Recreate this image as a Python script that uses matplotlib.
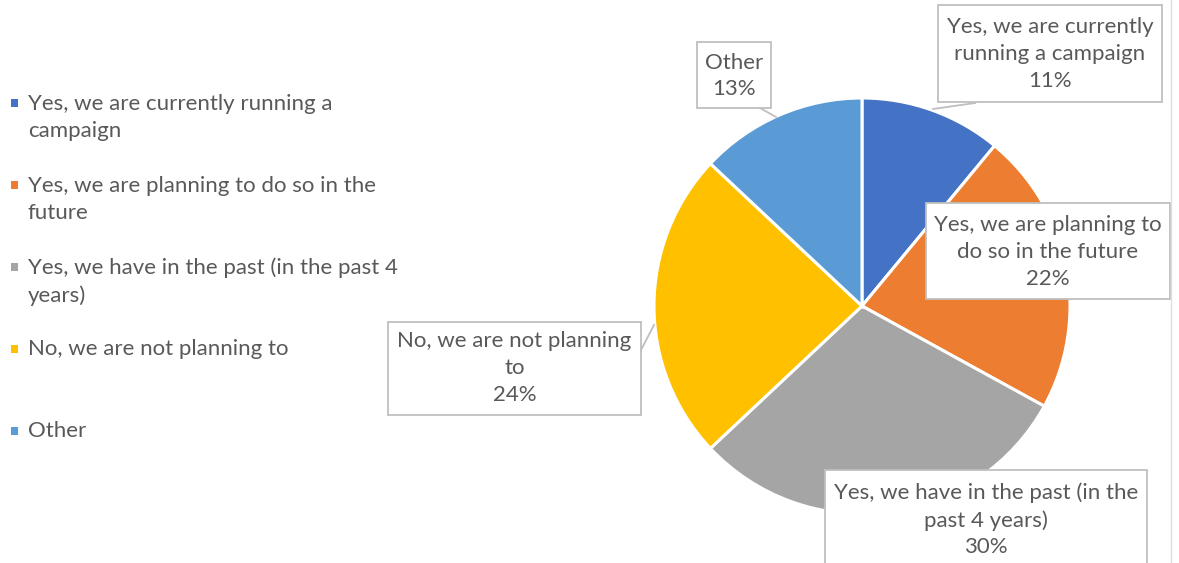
import matplotlib
matplotlib.use("Agg")
import matplotlib.pyplot as plt
from matplotlib.patches import Rectangle

plt.rcParams['font.family'] = ['Lato', 'DejaVu Sans']

categories = [
    "Yes, we are currently running a campaign",
    "Yes, we are planning to do so in the future",
    "Yes, we have in the past (in the past 4 years)",
    "No, we are not planning to",
    "Other",
]
shares = [11, 22, 30, 24, 13]
colors = ["#4472C4", "#ED7D31", "#A5A5A5", "#FFC000", "#5B9BD5"]

# wrapped text for legend entries and callouts
legend_text = [
    "Yes, we are currently running a\ncampaign",
    "Yes, we are planning to do so in the\nfuture",
    "Yes, we have in the past (in the past 4\nyears)",
    "No, we are not planning to",
    "Other",
]
callout_text = [
    "Yes, we are currently\nrunning a campaign",
    "Yes, we are planning to\ndo so in the future",
    "Yes, we have in the past (in the\npast 4 years)",
    "No, we are not planning\nto",
    "Other",
]
# callout boxes (x0, y0, x1, y1 in figure pixels from top-left) and leader lines
callout_box = [(938, 5, 1162, 102), (926, 203, 1170, 299), (825, 470, 1147, 575),
               (388, 322, 641, 415), (697, 42, 771, 108)]
callout_mid = [54, 252, 520, 368, 76]
leader = [((975, 103), (933, 109)), None, None, ((641, 350), (654, 325)), ((760, 108), (776, 117))]

W, H = 1179, 563
TXT = "#595959"
EDGE = "#BFBFBF"
FS = 16
LS = 1.42

fig = plt.figure(figsize=(W / 100, H / 100), dpi=100)


def fx(px):
    return px / W


def fy(py):
    return 1 - py / H


# pie axes: centre (862, 306), radius 208 px
cx0, cy0, r = 862, 306, 208
ax = fig.add_axes([fx(cx0 - r), fy(cy0 + r), 2 * r / W, 2 * r / H])
ax.pie(shares, colors=colors, startangle=90, counterclock=False,
       wedgeprops=dict(edgecolor="white", linewidth=2.2))
ax.set_xlim(-1, 1)
ax.set_ylim(-1, 1)
ax.set_aspect("equal")
ax.axis("off")

# leader lines
for seg in leader:
    if seg is None:
        continue
    (x0, y0), (x1, y1) = seg
    fig.add_artist(plt.Line2D([fx(x0), fx(x1)], [fy(y0), fy(y1)],
                              color=EDGE, linewidth=1.3))

# data callouts
for txt, pct, (x0, y0, x1, y1), ty in zip(callout_text, shares, callout_box, callout_mid):
    fig.add_artist(Rectangle((fx(x0), fy(y1)), (x1 - x0) / W, (y1 - y0) / H,
                             facecolor="white", edgecolor=EDGE, linewidth=1.3,
                             transform=fig.transFigure))
    fig.text(fx((x0 + x1) / 2), fy(ty), f"{txt}\n{pct}%", ha="center", va="center",
             fontsize=FS, color=TXT, linespacing=LS)

# legend on the left
row_y = [103, 185, 267, 349, 431]
for lbl, col, y in zip(legend_text, colors, row_y):
    fig.add_artist(Rectangle((fx(11), fy(y + 4)), 7 / W, 8 / H,
                             facecolor=col, edgecolor="none",
                             transform=fig.transFigure))
    nlines = lbl.count("\n") + 1
    fig.text(fx(28), fy(y + 14.5 * (nlines - 1)), lbl, ha="left", va="center",
             fontsize=FS, color=TXT, linespacing=LS)

# right border of the chart area
fig.add_artist(plt.Line2D([fx(1171), fx(1171)], [0, 1], color="#E0E0E0", linewidth=1))

fig.savefig("out.png", dpi=100)
